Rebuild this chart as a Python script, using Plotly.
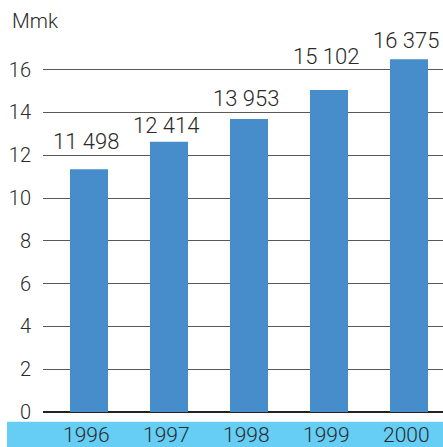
import plotly.graph_objects as go

# ---- data ----
years = ["1996", "1997", "1998", "1999", "2000"]
bar_heights = [11.34, 12.63, 13.69, 15.05, 16.48]          # bar heights as drawn
value_labels = ["11 498", "12 414", "13 953", "15 102", "16 375"]
y_ticks = [0, 2, 4, 6, 8, 10, 12, 14, 16]
unit_label = "Mmk"

# ---- layout / style ----
label_offsets_px = [28, 16, 21, 33, 19]   # label centre above bar top, in px
W, H = 443, 447
ml, mr, mt, mb = 43, 0, 0, 35
plot_w = W - ml - mr
plot_h = H - mt - mb
px_per_unit = 21.4
ymax = plot_h / px_per_unit

font_family = "Roboto, Liberation Sans, Arial, sans-serif"
font_weight = 300
text_color = "#2a2a2a"
bar_color = "#478dcc"
band_color = "#66cef5"

fig = go.Figure()
fig.add_trace(go.Bar(
    x=list(range(len(years))),
    y=bar_heights,
    marker=dict(color=bar_color, line=dict(width=0)),
    width=0.475,
    hoverinfo="skip",
))

for i, (h, lab, off) in enumerate(zip(bar_heights, value_labels, label_offsets_px)):
    fig.add_annotation(x=i, y=h, text=lab, showarrow=False, xref="x", yref="y",
                       yanchor="middle", xanchor="center", yshift=off, xshift=-3,
                       font=dict(family=font_family, size=22, color=text_color, weight=font_weight))

for i, yr in enumerate(years):
    fig.add_annotation(x=i, y=0, text=yr, showarrow=False, xref="x", yref="paper",
                       yanchor="middle", xanchor="center", yshift=-22.5, xshift=-3,
                       borderpad=0,
                       font=dict(family=font_family, size=21, color=text_color, weight=font_weight))

fig.add_annotation(x=(10 - ml) / plot_w, y=1 - 20.5 / plot_h, xref="paper", yref="paper",
                   text=unit_label, showarrow=False, xanchor="left", yanchor="middle",
                   font=dict(family=font_family, size=20.5, color=text_color, weight=font_weight))

# bottom band
fig.add_shape(type="rect", xref="paper", yref="paper",
              x0=(7 - ml) / plot_w, x1=1.01, y0=-(mb + 2) / plot_h, y1=-9.7 / plot_h,
              fillcolor=band_color, line=dict(width=0), layer="below")

fig.update_layout(
    width=W, height=H,
    margin=dict(l=ml, r=mr, t=mt, b=mb, pad=0, autoexpand=False),
    paper_bgcolor="white", plot_bgcolor="white",
    showlegend=False,
    bargap=0.525,
    xaxis=dict(
        range=[-0.575, 4.425],
        showticklabels=False, ticks="",
        showgrid=False, zeroline=False, showline=False,
        fixedrange=True, automargin=False,
    ),
    yaxis=dict(
        range=[0, ymax],
        tickmode="array", tickvals=y_ticks,
        tickfont=dict(family=font_family, size=20, color=text_color, weight=font_weight),
        ticks="outside", ticklen=7, tickcolor="rgba(0,0,0,0)",
        showgrid=True, gridcolor="#5a5a5a", gridwidth=1.2,
        zeroline=True, zerolinecolor="#222222", zerolinewidth=1.8,
        showline=False, fixedrange=True, automargin=False,
    ),
)

fig.write_html(
    "out.html",
    config={"displayModeBar": False},
    post_script="document.body.style.margin='0';document.body.style.overflow='hidden';",
)
